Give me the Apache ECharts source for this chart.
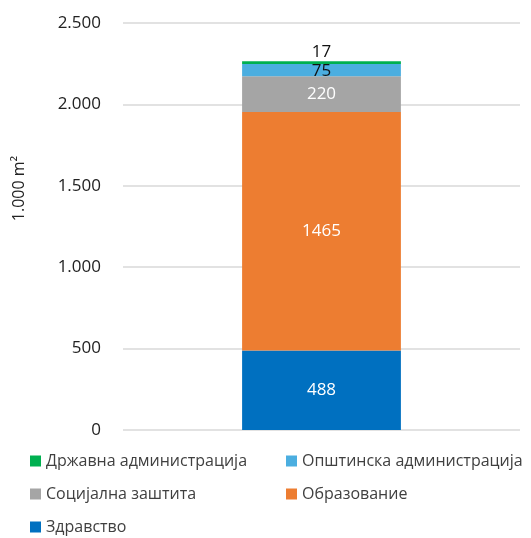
<!DOCTYPE html>
<html>
<head>
<meta charset="utf-8">
<script src="https://cdn.jsdelivr.net/npm/echarts@6/dist/echarts.min.js"></script>
<style>
  html, body { margin: 0; padding: 0; background: #fff; }
  #chart { width: 531px; height: 538px; }
</style>
</head>
<body>
<div id="chart"></div>
<script>
// податоци
const categories = ['']
const seriesNames = ['Здравство', 'Образование', 'Социјална заштита', 'Општинска администрација', 'Државна администрација']
const seriesValues = [[488], [1465], [220], [75], [17]]
const seriesColors = ['#0070C0', '#ED7D31', '#A5A5A5', '#4BAEE0', '#00B050']
const labelColors = ['#fff', '#fff', '#fff', '#111', '#111']
const labelOffsets = [[0, 0], [0, 0], [0, 0], [0, 1], [0, -10]]
const yTicks = [0, 500, 1000, 1500, 2000, 2500]

const font = 'Open Sans'
const myChart = echarts.init(document.getElementById('chart'))

const series = seriesNames.map((name, i) => ({
  name: name,
  type: 'bar',
  stack: 'total',
  barWidth: '40%',
  itemStyle: { color: seriesColors[i] },
  label: {
    show: true,
    position: 'inside',
    offset: labelOffsets[i],
    color: labelColors[i],
    fontFamily: font,
    fontSize: 17
  },
  data: seriesValues[i]
}))

const legendBase = {
  orient: 'vertical',
  top: 453,
  padding: 0,
  itemWidth: 11,
  itemHeight: 11,
  itemGap: 17,
  icon: 'rect',
  textStyle: { color: '#404040', fontSize: 16, lineHeight: 16, fontFamily: font }
}

const option = {
  animation: false,
  textStyle: { fontFamily: font },
  grid: { left: 123, right: 11, top: 23, bottom: 108 },
  legend: [
    Object.assign({}, legendBase, { left: 30, data: [seriesNames[4], seriesNames[2], seriesNames[0]] }),
    Object.assign({}, legendBase, { left: 286, data: [seriesNames[3], seriesNames[1]] })
  ],
  xAxis: {
    type: 'category',
    data: categories,
    axisLine: { show: false },
    axisTick: { show: false },
    axisLabel: { show: false }
  },
  yAxis: {
    type: 'value',
    min: yTicks[0],
    max: yTicks[yTicks.length - 1],
    interval: 500,
    name: '1.000 m²',
    nameLocation: 'middle',
    nameGap: 96,
    nameTextStyle: { color: '#222', fontSize: 16, fontFamily: font, padding: [0, 0, 0, 76] },
    axisLabel: {
      color: '#222',
      fontSize: 17,
      fontFamily: font,
      margin: 22,
      formatter: v => v.toString().replace(/\B(?=(\d{3})+(?!\d))/g, '.')
    },
    splitLine: { lineStyle: { color: '#D9D9D9', width: 1.5 } }
  },
  series: series
}

myChart.setOption(option)
</script>
</body>
</html>
